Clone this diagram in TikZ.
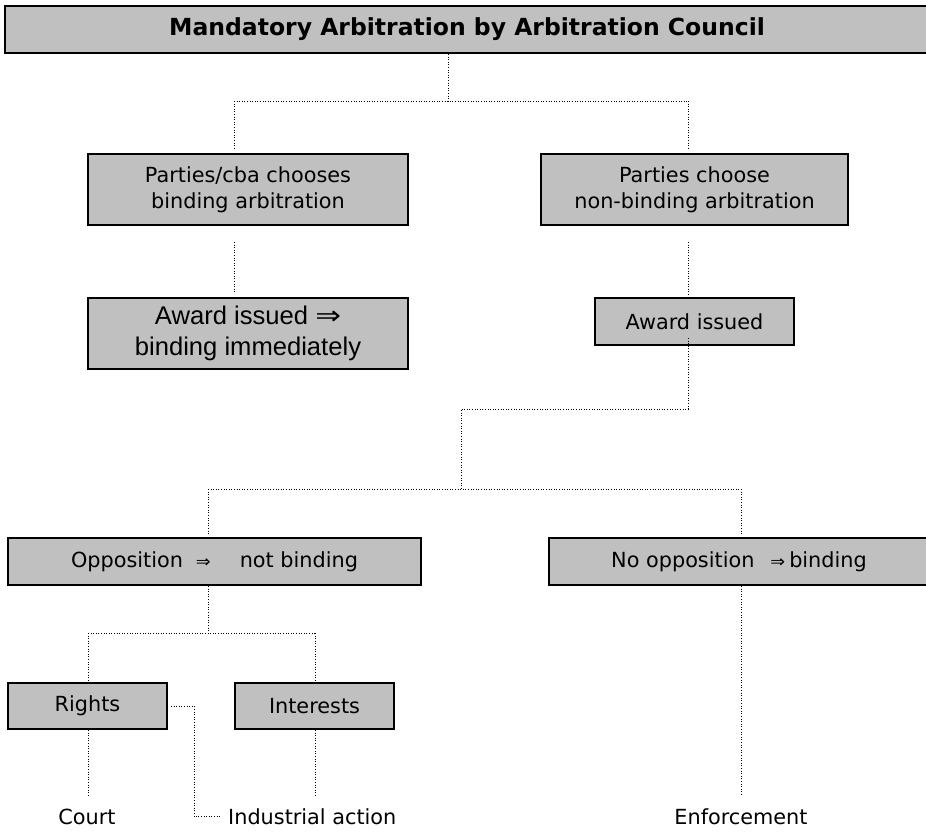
\documentclass[tikz,border=0pt]{standalone}
\usepackage{graphicx}
\usepackage{fontspec}
\setmainfont{DejaVu Sans}
\newfontfamily\arialfont{Liberation Sans}
\newfontfamily\symfont{DejaVu Sans}
\usetikzlibrary{calc}
\definecolor{boxgray}{HTML}{C0C0C0}
\newcommand{\imp}{{\symfont\fontsize{20.8}{20.8}\selectfont\scalebox{0.85}[0.8]{⇒}}}

\begin{document}
\begin{tikzpicture}[x=1pt, y=-1pt,
    box/.style={draw=black, line width=2pt, fill=boxgray, inner sep=0pt, align=center,
                font=\fontsize{20.8}{26}\selectfont},
    leaf/.style={inner sep=0pt, font=\fontsize{20.8}{26}\selectfont},
    link/.style={line width=1pt, dash pattern=on 1pt off 1.6pt}]
\useasboundingbox (0,0) rectangle (926,831);

\node [box, minimum width=924pt, minimum height=47pt, font=\bfseries\fontsize{23.5}{28}\selectfont]
    (title) at (467,29.5) {Mandatory Arbitration by Arbitration Council};
\node [box, minimum width=320pt, minimum height=71pt] (bind) at (248,189.5)
    {Parties/cba chooses\\binding arbitration};
\node [box, minimum width=307pt, minimum height=71pt] (nonbind) at (694.5,189.5)
    {Parties choose\\non-binding arbitration};
\node [box, minimum width=320pt, minimum height=71pt, font=\arialfont\fontsize{25.6}{31}\selectfont]
    (award1) at (248,333.5) {Award issued {\symfont\scalebox{1.2}[1]{⇒}}\\binding immediately};
\node [box, minimum width=199pt, minimum height=47pt] (award2) at (694.5,321.5) {Award issued};
\node [box, minimum width=413pt, minimum height=47pt] (oppo) at (214.5,561.5)
    {Opposition\hspace{13pt}\imp\hspace{29pt}not binding};
\node [box, minimum width=380pt, minimum height=47pt] (noopp) at (739,561.5)
    {No opposition\hspace{16pt}\imp\hspace{4pt}binding};
\node [box, minimum width=159pt, minimum height=46pt] (rights) at (87.5,706) {Rights};
\node [box, minimum width=159pt, minimum height=46pt] (interests) at (314.5,706) {Interests};
\node [leaf] (court) at (87,816.5) {Court};
\node [leaf, anchor=west] (industrial) at (228,816.5) {Industrial action};
\node [leaf] (enforce) at (741,816.5) {Enforcement};

\coordinate (top) at (448,101);
\coordinate (lc) at (234,101);
\coordinate (rc) at (688,101);
\coordinate (mid) at (461,409);
\coordinate (split) at (461,489);
\coordinate (ol) at (208,489);
\coordinate (nr) at (741,489);
\coordinate (rl) at (88,633);
\coordinate (il) at (315,633);

\draw [link] (title.south -| top) -- (top);
\draw [link] (lc) -- (rc);
\draw [link, shorten >=4pt] (lc) -- (bind.north -| lc);
\draw [link, shorten >=4pt] (rc) -- (nonbind.north -| rc);
\draw [link, shorten <=16pt, shorten >=3pt] (bind.south -| lc) -- (award1.north -| lc);
\draw [link, shorten <=16pt] (nonbind.south -| rc) -- (award2.north -| rc);
\draw [link] ($(award2.south -| rc)+(0,-8)$) |- (mid) -- (split);
\draw [link] (ol) -- (nr);
\draw [link, shorten >=2pt] (ol) -- (oppo.north -| ol);
\draw [link, shorten >=2pt] (nr) -- (noopp.north -| nr);
\draw [link] (oppo.south -| ol) -- (ol |- rl);
\draw [link] (rl) -- (il);
\draw [link, shorten >=2pt] (rl) -- (rights.north -| rl);
\draw [link, shorten >=2pt] (il) -- (interests.north -| il);
\draw [link, shorten >=12pt] (rights.south -| rl) -- (court.north -| rl);
\draw [link, shorten >=12pt] (interests.south -| il) -- (industrial.north -| il);
\draw [link, shorten <=3pt, shorten >=8pt] (rights.east) -- ++(26,0) |- (industrial.west);
\draw [link, shorten >=12pt] (noopp.south -| nr) -- (enforce.north -| nr);
\end{tikzpicture}
\end{document}
